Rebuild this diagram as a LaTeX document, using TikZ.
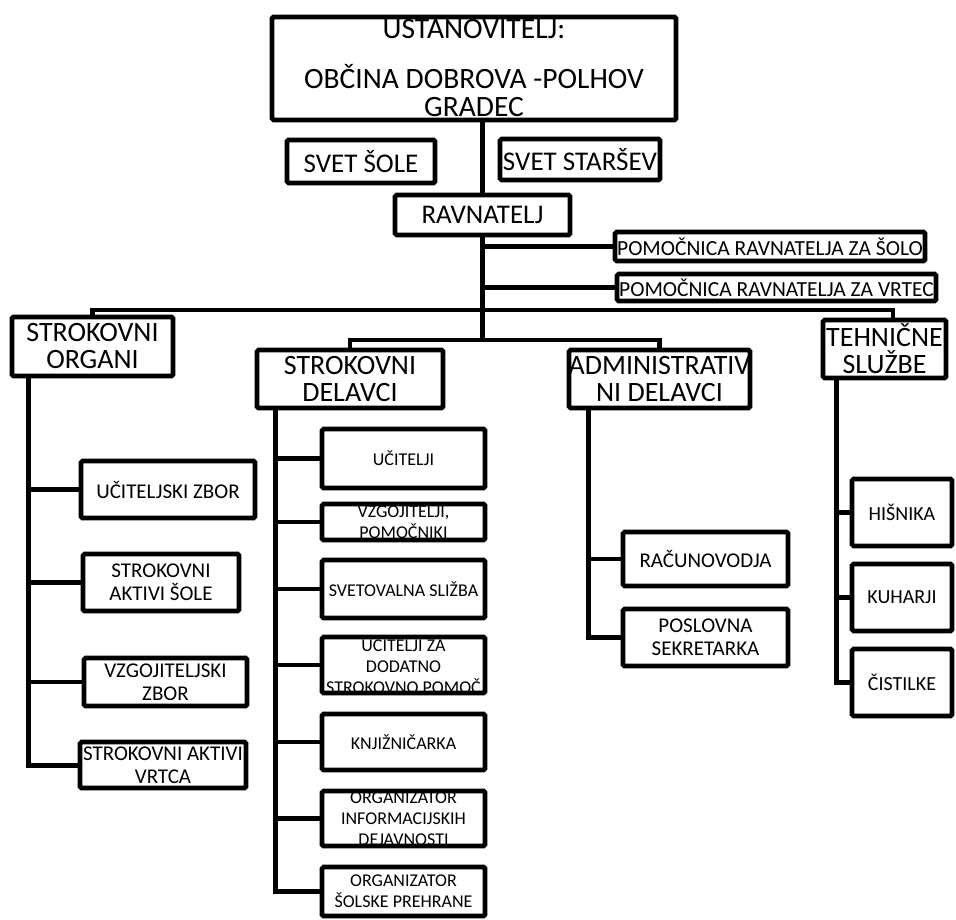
\documentclass[tikz,border=0pt]{standalone}
\usepackage{fontspec}
\setmainfont{Carlito}
\newcommand\fsz[2]{\fontsize{#1pt}{#2pt}\selectfont}
\begin{document}
\begin{tikzpicture}[x=1pt,y=-1pt,
 box/.style={draw, line width=4.6pt, rounded corners=1.5pt, fill=white, inner sep=0pt},
 lbl/.style={align=center, inner sep=0pt, text=black},
 conn/.style={line width=5pt},
 brn/.style={line width=4.6pt}]
\useasboundingbox (0,0) rectangle (956,920);
% top
\node[box, minimum width=404pt, minimum height=103pt,
  label={[lbl,font=\fsz{29.5}{28.5}]center:{USTANOVITELJ:\\[21pt]OBČINA DOBROVA -POLHOV\\GRADEC}}] (ust) at (474,68.5) {};
\node[box, minimum width=148pt, minimum height=43pt,
  label={[lbl,font=\fsz{27}{28}]center:{SVET ŠOLE}}] (svs) at (361,161.5) {};
\node[box, minimum width=160pt, minimum height=41pt,
  label={[lbl,font=\fsz{27}{28}]center:{SVET STARŠEV}}] (sst) at (580,159.5) {};
\node[box, minimum width=175pt, minimum height=40pt,
  label={[lbl,font=\fsz{27}{28}]center:{RAVNATELJ}}] (rav) at (482.5,215) {};
\node[box, minimum width=310pt, minimum height=29pt,
  label={[lbl,font=\fsz{21.5}{23}]center:{POMOČNICA RAVNATELJA ZA ŠOLO}}] (pom1) at (770,246.5) {};
\node[box, minimum width=319pt, minimum height=27pt,
  label={[lbl,font=\fsz{21.5}{23}]center:{POMOČNICA RAVNATELJA ZA VRTEC}}] (pom2) at (776.5,287.5) {};
% level 1
\node[box, minimum width=161pt, minimum height=59pt,
  label={[lbl,font=\fsz{28}{27}]center:{STROKOVNI\\ORGANI}}] (so) at (92.5,346.5) {};
\node[box, minimum width=186pt, minimum height=58pt,
  label={[lbl,font=\fsz{28}{27}]center:{STROKOVNI\\DELAVCI}}] (sd) at (350,379) {};
\node[box, minimum width=181pt, minimum height=58pt,
  label={[lbl,font=\fsz{28}{27}]center:{ADMINISTRATIV\\NI DELAVCI}}] (ad) at (659.5,379) {};
\node[box, minimum width=123pt, minimum height=58pt,
  label={[lbl,font=\fsz{28}{27}]center:{TEHNIČNE\\SLUŽBE}}] (ts) at (884.5,349) {};
% left column
\node[box, minimum width=174pt, minimum height=57pt,
  label={[lbl,font=\fsz{21}{23}]center:{UČITELJSKI ZBOR}}] (uz) at (168,489.5) {};
\node[box, minimum width=156pt, minimum height=57pt,
  label={[lbl,font=\fsz{21}{23}]center:{STROKOVNI\\AKTIVI ŠOLE}}] (sas) at (161,582.5) {};
\node[box, minimum width=163pt, minimum height=48pt,
  label={[lbl,font=\fsz{21}{23}]center:{VZGOJITELJSKI\\ZBOR}}] (vz) at (165.5,682) {};
\node[box, minimum width=166pt, minimum height=46pt,
  label={[lbl,font=\fsz{21}{23}]center:{STROKOVNI AKTIVI\\VRTCA}}] (sav) at (163,765) {};
% middle column
\node[box, minimum width=163pt, minimum height=59pt,
  label={[lbl,font=\fsz{18}{21}]center:{UČITELJI}}] (uc) at (403.5,458.5) {};
\node[box, minimum width=163pt, minimum height=36pt,
  label={[lbl,font=\fsz{18}{21}]center:{VZGOJITELJI,\\POMOČNIKI}}] (vp) at (403.5,522) {};
\node[box, minimum width=163pt, minimum height=58pt,
  label={[lbl,font=\fsz{18}{21}]center:{SVETOVALNA SLIŽBA}}] (svz) at (403.5,589) {};
\node[box, minimum width=163pt, minimum height=56pt,
  label={[lbl,font=\fsz{18}{21}]center:{UČITELJI ZA\\DODATNO\\STROKOVNO POMOČ}}] (udp) at (403.5,665) {};
\node[box, minimum width=163pt, minimum height=56pt,
  label={[lbl,font=\fsz{18}{21}]center:{KNJIŽNIČARKA}}] (knj) at (403.5,742) {};
\node[box, minimum width=163pt, minimum height=55pt,
  label={[lbl,font=\fsz{18}{21}]center:{ORGANIZATOR\\INFORMACIJSKIH\\DEJAVNOSTI}}] (oid) at (403.5,818.5) {};
\node[box, minimum width=163pt, minimum height=49pt,
  label={[lbl,font=\fsz{18}{21}]center:{ORGANIZATOR\\ŠOLSKE PREHRANE}}] (osp) at (403.5,891.5) {};
% admin column
\node[box, minimum width=165pt, minimum height=54pt,
  label={[lbl,font=\fsz{21}{23}]center:{RAČUNOVODJA}}] (rac) at (705.5,559) {};
\node[box, minimum width=165pt, minimum height=57pt,
  label={[lbl,font=\fsz{21}{23}]center:{POSLOVNA\\SEKRETARKA}}] (psk) at (705.5,637.5) {};
% tech column
\node[box, minimum width=100pt, minimum height=67pt,
  label={[lbl,font=\fsz{20}{22}]center:{HIŠNIKA}}] (his) at (902,512.5) {};
\node[box, minimum width=100pt, minimum height=67pt,
  label={[lbl,font=\fsz{20}{22}]center:{KUHARJI}}] (kuh) at (902,597.5) {};
\node[box, minimum width=100pt, minimum height=67pt,
  label={[lbl,font=\fsz{20}{22}]center:{ČISTILKE}}] (cis) at (902,682.5) {};
% connectors
\coordinate (h2) at (482.5,340);
\coordinate (h1r) at (893,310);
\coordinate (lv) at (28,378);
\coordinate (mv) at (275,410);
\coordinate (av) at (588,410);
\coordinate (tv) at (836,380);
\draw[conn] (rav.north) -- (rav.north |- ust.south);
\draw[conn] (rav.south) -- (rav.south |- h2);
\draw[brn] (rav.south |- pom1.west) -- (pom1.west);
\draw[brn] (rav.south |- pom2.west) -- (pom2.west);
\draw[brn] (so.north) |- (h1r) -- (h1r |- ts.north);
\draw[brn] (sd.north) |- (ad.north |- h2) -- (ad.north);
% left
\draw[conn] (lv |- so.south) -- (lv |- sav.west) -- (sav.west);
\draw[brn] (lv |- uz.west) -- (uz.west);
\draw[brn] (lv |- sas.west) -- (sas.west);
\draw[brn] (lv |- vz.west) -- (vz.west);
% middle
\draw[conn] (mv |- sd.south) -- (mv |- osp.west) -- (osp.west);
\draw[brn] (mv |- uc.west) -- (uc.west);
\draw[brn] (mv |- vp.west) -- (vp.west);
\draw[brn] (mv |- svz.west) -- (svz.west);
\draw[brn] (mv |- udp.west) -- (udp.west);
\draw[brn] (mv |- knj.west) -- (knj.west);
\draw[brn] (mv |- oid.west) -- (oid.west);
% admin
\draw[conn] (av |- ad.south) -- (av |- psk.west) -- (psk.west);
\draw[brn] (av |- rac.west) -- (rac.west);
% tech
\draw[conn] (tv |- ts.south) -- (tv |- cis.west) -- (cis.west);
\draw[brn] (tv |- his.west) -- (his.west);
\draw[brn] (tv |- kuh.west) -- (kuh.west);
\end{tikzpicture}
\end{document}
